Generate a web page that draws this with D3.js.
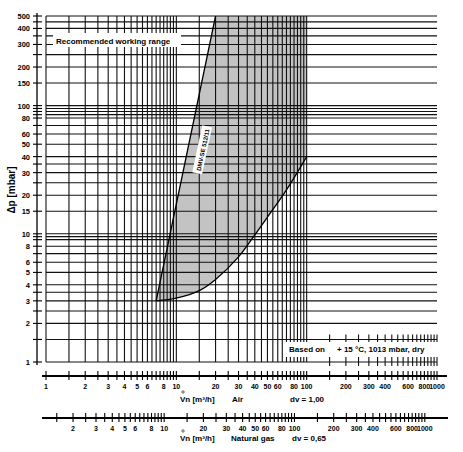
<!DOCTYPE html>
<html><head><meta charset="utf-8">
<script src="https://cdn.jsdelivr.net/npm/d3@7"></script>
<style>body{margin:0;background:#fff}text{font-family:"Liberation Sans",Arial,sans-serif;font-weight:bold}</style>
</head><body><svg id="c" width="463" height="452"></svg>
<script>
// flow grid values (air, m3/h)
const xGrid = [1,1.5,2,2.5,3,3.5,4,4.5,5,5.5,6,6.5,7,7.5,8,8.5,9,9.5,10,15,20,25,30,35,40,45,50,55,60,65,70,75,80,85,90,95,100]
const xMinor = [150,200,250,300,350,400,450,500,550,600,650,700,750,800,850,900,950,1000]
const xLabels = [1,2,3,4,5,6,8,10,20,30,40,50,60,80,100,200,300,400,600,800,1000]
const gasTicks = [1.5,2,2.5,3,3.5,4,4.5,5,5.5,6,6.5,7,7.5,8,8.5,9,9.5,10,15,20,25,30,35,40,45,50,55,60,65,70,75,80,85,90,95,100,150,200,250,300,350,400,450,500,550,600,650,700,750,800,850,900,950,1000]
const gasLabels = [2,3,4,5,6,8,10,20,30,40,50,60,80,100,200,300,400,600,800,1000]
// pressure grid (mbar)
const yGrid = [1,1.5,2,2.5,3,3.5,4,5,6,7,8,9,9.5,10,15,20,25,30,35,40,50,60,70,80,85,90,95,100,150,200,250,300,350,400,450,500]
const yLabels = [1,2,3,4,5,6,8,10,15,20,30,40,50,60,80,100,150,200,300,400,500]
// working range boundary
const leftEdge = [[7,3],[20,500]]
const lowerCurve = [[7,3],[10,3.15],[15,3.6],[20,4.4],[30,6.6],[40,9.8],[50,13.5],[70,22],[100,40]]
const gasFactor = Math.sqrt(0.65)

const svg = d3.select("#c")
const x = d3.scaleLog().domain([1, 1000]).range([46, 437])
const y = d3.scaleLog().domain([1, 500]).range([362, 16])

const curveLine = d3.line().curve(d3.curveCatmullRom).x(d => x(d[0])).y(d => y(d[1]))
const curvePath = curveLine(lowerCurve)

// shaded range: lower curve, up the right edge, back down the left line
svg.append("path")
    .attr("d", curvePath + "L" + x(100) + "," + y(500) + "L" + x(20) + "," + y(500) + "Z")
    .attr("fill", "#c3c3c3")

let grid = svg.append("g").attr("stroke", "#111").attr("stroke-width", 1.1)
for (let v of xGrid) {
    grid.append("line").attr("x1", x(v)).attr("x2", x(v)).attr("y1", y(500)).attr("y2", y(1))
}
for (let v of yGrid) {
    grid.append("line").attr("x1", x(1)).attr("x2", x(1000)).attr("y1", y(v)).attr("y2", y(v))
}
for (let v of xMinor) {
    for (let h of [1, 1.5]) {
        grid.append("line").attr("x1", x(v)).attr("x2", x(v)).attr("y1", y(h) - 5).attr("y2", y(h) + 4)
    }
}

// boundary lines
svg.append("path")
    .attr("d", d3.line().x(d => x(d[0])).y(d => y(d[1]))(leftEdge))
    .attr("fill", "none").attr("stroke", "#000").attr("stroke-width", 1.3)
svg.append("path").attr("d", curvePath)
    .attr("fill", "none").attr("stroke", "#000").attr("stroke-width", 1.3)

// y axis
svg.append("line").attr("x1", 37).attr("x2", 37).attr("y1", y(500) - 3).attr("y2", y(1) + 3)
    .attr("stroke", "#000").attr("stroke-width", 1.3)
for (let v of yGrid) {
    svg.append("line").attr("x1", 33).attr("x2", 42).attr("y1", y(v)).attr("y2", y(v))
        .attr("stroke", "#000").attr("stroke-width", 1.1)
}
svg.append("g").selectAll("text").data(yLabels).join("text")
    .attr("x", 30).attr("y", d => y(d) + 3).attr("text-anchor", "end")
    .attr("font-size", 7.5).text(d => d)
svg.append("text").attr("transform", "translate(15,190) rotate(-90)")
    .attr("text-anchor", "middle").attr("font-size", 10).text("Δp [mbar]")

// flow axes
function flowAxis(yPos, x0, x1, ticks, labels, scale) {
    svg.append("line").attr("x1", x0).attr("x2", x1).attr("y1", yPos).attr("y2", yPos)
        .attr("stroke", "#000").attr("stroke-width", 1.8)
    for (let v of ticks) {
        svg.append("line").attr("x1", x(v * scale)).attr("x2", x(v * scale))
            .attr("y1", yPos - 5).attr("y2", yPos + 4).attr("stroke", "#000").attr("stroke-width", 1.1)
    }
    svg.append("g").selectAll("text").data(labels).join("text")
        .attr("x", d => x(d * scale)).attr("y", yPos + 13).attr("text-anchor", "middle")
        .attr("font-size", 7).text(d => d)
}
flowAxis(376, 42, 447, [1].concat(xGrid.slice(1), xMinor), xLabels, 1)
flowAxis(418, 42, 448, gasTicks, gasLabels, gasFactor)

function axisTitle(yPos, parts) {
    for (let [px, t] of parts) {
        svg.append("text").attr("x", px).attr("y", yPos).attr("font-size", 8).text(t)
    }
    svg.append("circle").attr("cx", 183).attr("cy", yPos - 10).attr("r", 1.2)
        .attr("fill", "none").attr("stroke", "#000").attr("stroke-width", 0.6)
}
axisTitle(402, [[180, "Vn [m³/h]"], [232, "Air"], [290, "dv = 1,00"]])
axisTitle(441, [[180, "Vn [m³/h]"], [231, "Natural gas"], [292, "dv = 0,65"]])

// labels with white boxes
svg.append("rect").attr("x", 53).attr("y", 33).attr("width", 128).attr("height", 14).attr("fill", "#fff")
svg.append("text").attr("x", 56).attr("y", 44).attr("font-size", 8).text("Recommended working range")
svg.append("rect").attr("x", 283).attr("y", 342).attr("width", 160).attr("height", 15).attr("fill", "#fff")
svg.append("text").attr("x", 289).attr("y", 352).attr("font-size", 8).text("Based on")
svg.append("text").attr("x", 337).attr("y", 352).attr("font-size", 8).text("+ 15 °C, 1013 mbar, dry")

let tag = svg.append("g").attr("transform", "translate(" + (x(15.5) + 2) + "," + y(45) + ") rotate(-78)")
tag.append("rect").attr("x", -24).attr("y", -6).attr("width", 48).attr("height", 10).attr("fill", "#fff")
tag.append("text").attr("x", 0).attr("y", 2).attr("text-anchor", "middle").attr("font-size", 6).text("DMV-SE 512/11")
</script></body></html>
